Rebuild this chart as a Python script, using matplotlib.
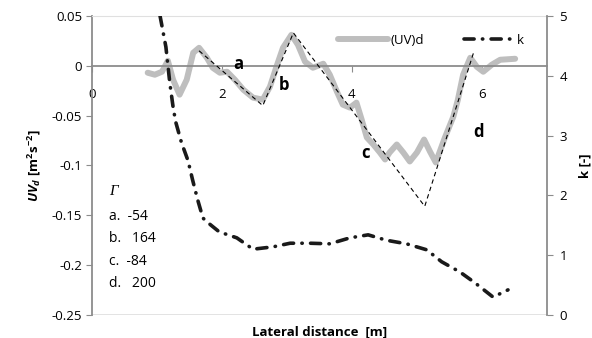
import matplotlib
matplotlib.use("Agg")
import matplotlib.pyplot as plt
from matplotlib.lines import Line2D

plt.rcParams["font.family"] = ["Open Sans", "DejaVu Sans"]
plt.rcParams["mathtext.fontset"] = "custom"
plt.rcParams["mathtext.rm"] = "Open Sans:bold"
plt.rcParams["mathtext.bf"] = "Open Sans:bold"
plt.rcParams["mathtext.it"] = "Open Sans:bold:italic"

# (UV)d profile
uv_x = [0.86, 0.97, 1.08, 1.17, 1.25, 1.35, 1.46, 1.56, 1.65, 1.77, 1.86, 1.97, 2.08, 2.20,
        2.33, 2.48, 2.63, 2.74, 2.84, 2.94, 3.07, 3.17, 3.28, 3.40, 3.56, 3.66, 3.77, 3.86,
        3.97, 4.07, 4.15, 4.23, 4.33, 4.43, 4.51, 4.58, 4.69, 4.79, 4.89, 5.00, 5.11, 5.20,
        5.29, 5.43, 5.56, 5.63, 5.71, 5.82, 5.92, 6.02, 6.15, 6.28, 6.51]
uv_y = [-0.007, -0.009, -0.006, 0.005, -0.014, -0.029, -0.014, 0.013, 0.018, 0.008, -0.002,
        -0.007, -0.006, -0.014, -0.024, -0.032, -0.034, -0.021, -0.001, 0.018, 0.031, 0.021,
        0.004, -0.002, 0.002, -0.009, -0.026, -0.039, -0.042, -0.037, -0.054, -0.072, -0.079,
        -0.087, -0.094, -0.087, -0.079, -0.087, -0.096, -0.087, -0.074, -0.086, -0.097,
        -0.072, -0.051, -0.034, -0.009, 0.008, -0.001, -0.006, 0.001, 0.006, 0.007]

# thin dashed guide
guide_x = [1.65, 2.63, 3.10, 5.12, 5.87]
guide_y = [0.015, -0.040, 0.033, -0.141, 0.013]

# k profile (right axis)
k_x = [1.05, 1.09, 1.14, 1.20, 1.25, 1.29, 1.38, 1.48, 1.55, 1.63, 1.71, 1.79, 1.96, 2.23,
       2.48, 2.79, 3.05, 3.35, 3.66, 3.97, 4.25, 4.53, 4.84, 5.15, 5.38, 5.66, 5.89, 6.17, 6.40]
k_y = [5.00, 4.77, 4.48, 3.88, 3.48, 3.23, 2.88, 2.58, 2.26, 1.92, 1.62, 1.54, 1.39, 1.29,
       1.10, 1.14, 1.20, 1.20, 1.19, 1.29, 1.34, 1.25, 1.19, 1.09, 0.89, 0.72, 0.54, 0.30, 0.42]

labels = [("a", 2.18, 0.002), ("b", 2.88, -0.019), ("c", 4.15, -0.088), ("d", 5.87, -0.066)]
gamma_lines = ["a.  -54", "b.   164", "c.  -84", "d.   200"]

GRAY = "#bebebe"
AXC = "#8c8c8c"
K_STYLE = (0, (2.8, 2.3, 0.1, 2.3))

fig = plt.figure(figsize=(5.92, 3.38), dpi=100)
ax = fig.add_axes([0.155, 0.068, 0.769, 0.885])

ax.plot(guide_x, guide_y, color="black", lw=0.8, ls=(0, (4, 3)), zorder=3)
ax.plot(uv_x, uv_y, color=GRAY, lw=4.3, solid_joinstyle="round",
        solid_capstyle="round", zorder=2)

ax.set_xlim(0, 7)
ax.set_ylim(-0.25, 0.05)
ax.set_yticks([0.05, 0, -0.05, -0.1, -0.15, -0.2, -0.25])
ax.set_yticklabels(["0.05", "0", "-0.05", "-0.1", "-0.15", "-0.2", "-0.25"])
ax.set_xticks([0, 2, 4, 6])
ax.set_xticklabels(["0", "2", "4", "6"])

ax.spines["bottom"].set_position(("data", 0))
ax.spines["bottom"].set_color(AXC)
ax.spines["bottom"].set_linewidth(1.3)
ax.spines["left"].set_color(AXC)
ax.spines["left"].set_linewidth(1.3)
ax.spines["top"].set_color("#e0e0e0")
ax.spines["right"].set_visible(False)
ax.axhline(-0.25, color="#e0e0e0", lw=1.3, zorder=0)
ax.tick_params(axis="y", direction="out", length=4, color=AXC, labelsize=9.5, pad=3)
ax.tick_params(axis="x", direction="out", length=4, color=AXC, labelsize=9.5, pad=12)

ax.set_ylabel(r"$UV_d$ [m$^{2}$s$^{-2}$]", fontsize=9.5, fontweight="bold", labelpad=6)
ax.set_xlabel("Lateral distance  [m]", fontsize=9.5, fontweight="bold")
ax.xaxis.set_label_coords(0.5, -0.035)

for t, x, y in labels:
    ax.text(x, y, t, fontsize=12, fontweight="bold", ha="left", va="center", zorder=5)

ax.text(0.27, -0.126, "Γ", fontsize=11, style="italic",
        fontfamily="Liberation Serif", ha="left", va="center")
for i, s in enumerate(gamma_lines):
    ax.text(0.27, -0.151 - i * 0.0225, s, fontsize=10, ha="left", va="center")

ax2 = ax.twinx()
ax2.plot(k_x, k_y, color="#1a1a1a", lw=2.6, ls=K_STYLE,
         dash_capstyle="round", zorder=4)
ax2.set_ylim(0, 5)
ax2.set_yticks([0, 1, 2, 3, 4, 5])
for s in ["top", "left", "bottom"]:
    ax2.spines[s].set_visible(False)
ax2.spines["right"].set_color(AXC)
ax2.spines["right"].set_linewidth(1.3)
ax2.tick_params(axis="y", direction="out", length=4, color=AXC, labelsize=9.5, pad=5)
ax2.set_ylabel("k [-]", fontsize=9.5, fontweight="bold", labelpad=8)

handles = [
    Line2D([], [], color=GRAY, lw=4.3, solid_capstyle="round"),
    Line2D([], [], color="#1a1a1a", lw=2.6, ls=K_STYLE, dash_capstyle="round"),
]
ax2.legend(handles, ["(UV)d", "k"], loc="upper right", bbox_to_anchor=(0.975, 0.98),
           ncol=2, frameon=False, fontsize=9.5, handlelength=3.8, handletextpad=0.2,
           columnspacing=3.0)

fig.savefig("out.png", dpi=100)
